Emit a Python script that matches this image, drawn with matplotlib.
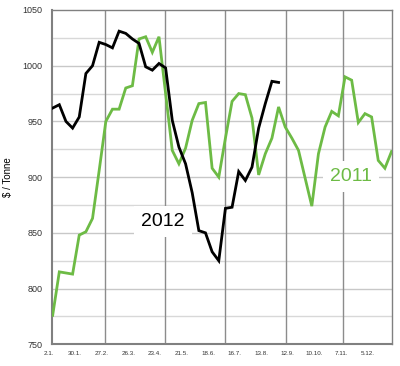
import numpy as np
import matplotlib
matplotlib.use("Agg")
import matplotlib.pyplot as plt
from matplotlib.transforms import ScaledTranslation

plt.rcParams['font.family'] = ['Liberation Sans', 'DejaVu Sans']

# Weekly prices ($ / tonne)
prices_2011 = [776, 815, 814, 813, 848, 851, 863, 906, 950, 961, 961, 980, 982,
               1024, 1026, 1012, 1026, 975, 924, 912, 926, 951, 966, 967, 908,
               900, 935, 968, 975, 974, 953, 902, 921, 935, 963, 945, 935, 924,
               899, 874, 921, 945, 959, 955, 990, 987, 949, 957, 954, 915, 908, 923]
prices_2012 = [962, 965, 950, 944, 954, 993, 1000, 1021, 1019, 1016, 1031, 1029,
               1024, 1020, 999, 996, 1002, 998, 951, 927, 912, 886, 852, 850, 833,
               825, 872, 873, 905, 897, 909, 944, 966, 986, 985]
tick_labels = ["2.1.", "30.1.", "27.2.", "26.3.", "23.4.", "21.5.", "18.6.",
               "16.7.", "13.8.", "12.9.", "10.10.", "7.11.", "5.12."]
month_lines = [7.95, 16.85, 26.0, 35.1, 43.75]

fig = plt.figure(figsize=(4.0, 3.66), dpi=100)
ax = fig.add_axes([0.13, 0.0593, 0.8505, 0.9134])

ax.set_xlim(-0.1, 51.1)
ax.set_ylim(750, 1050)

# grid
for v in np.arange(775, 1050, 25):
    ax.axhline(v, color='#d8d8d8' if v % 50 else '#c8c8c8', lw=1.0, zorder=1)
for m in month_lines:
    ax.axvline(m, color='#8c8c8c', lw=1.0, zorder=1)

g = ax.plot(np.arange(len(prices_2011)), prices_2011, color='#6dbb45', lw=2.0,
            zorder=3, solid_joinstyle='miter')
b = ax.plot(np.arange(len(prices_2012)), prices_2012, color='#000000', lw=2.0,
            zorder=4, solid_joinstyle='miter')

ax.text(16.6, 860, "2012", fontsize=14, color='black', ha='center', va='center',
        zorder=2.5, bbox=dict(facecolor='white', edgecolor='none', pad=5))
ax.text(44.85, 901, "2011", fontsize=14, color='#6dbb45', ha='center', va='center',
        zorder=2.5, bbox=dict(facecolor='white', edgecolor='none', pad=5))

ax.set_yticks(np.arange(750, 1051, 50))
ax.set_xticks(np.arange(0, 4 * len(tick_labels), 4))
ax.set_xticklabels(tick_labels)
ax.tick_params(axis='both', length=0, colors='#333333')
ax.tick_params(axis='y', labelsize=6.5, pad=7)
ax.tick_params(axis='x', labelsize=4.5, pad=5)
for lab in ax.get_xticklabels():
    lab.set_transform(lab.get_transform() + ScaledTranslation(-4 / 100, 0, fig.dpi_scale_trans))

ax.set_ylabel("$ / Tonne", fontsize=7)
ax.yaxis.set_label_coords(-0.115, 0.5)

for s in ax.spines.values():
    s.set_color('#808080')
    s.set_linewidth(1.0)
ax.spines['left'].set_linewidth(1.5)
ax.spines['bottom'].set_linewidth(1.5)

fig.savefig("out.png", dpi=100)
